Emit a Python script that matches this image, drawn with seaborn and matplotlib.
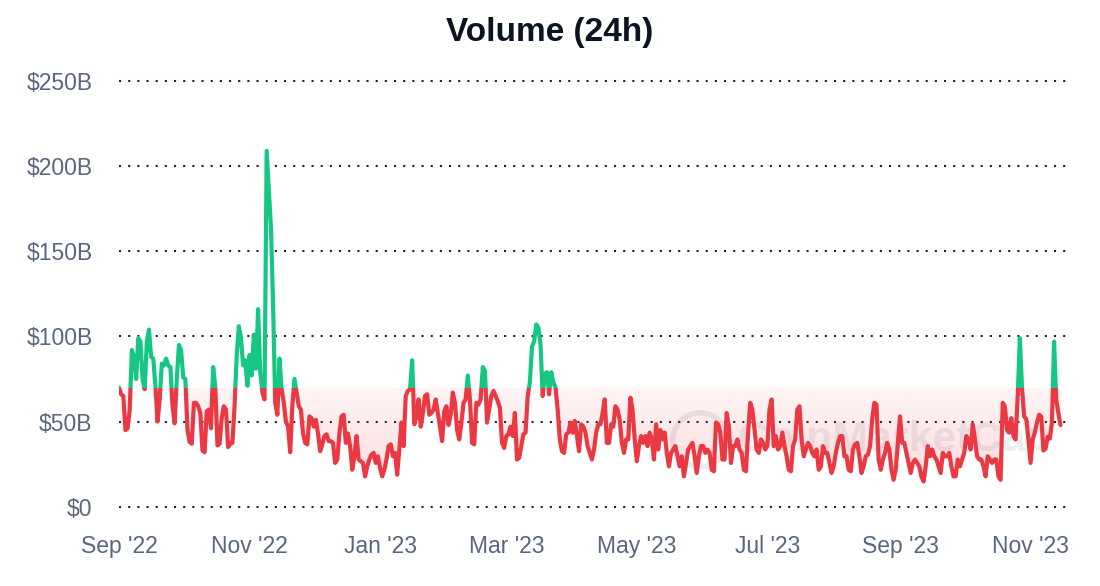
import numpy as np
import pandas as pd
import matplotlib
matplotlib.use("Agg")
import matplotlib.pyplot as plt
import matplotlib.dates as mdates
from matplotlib.colors import to_rgb
from matplotlib.patches import Rectangle, Ellipse
import seaborn as sns

# daily 24h volume in $B
start_date = "2022-09-01"

# Sep 1 - Oct 23, 2022
vol_part1 = [70, 66, 65, 45, 46, 57, 92, 88, 75, 99, 97, 75, 69, 97, 104, 88, 87, 71, 50, 63,
             84, 83, 87, 83, 82, 59, 49, 75, 95, 92, 76, 75, 45, 38, 37, 61, 61, 59, 55, 33,
             32, 56, 57, 46, 82, 70, 36, 37, 52, 59, 57, 35, 37]
# Oct 24 - Dec 14, 2022
vol_part2 = [37.5, 59, 89, 106, 99, 83, 86, 71, 89, 77, 101, 81, 116, 79, 67, 63, 209, 186, 164, 119,
             61, 54, 87, 69, 61, 50, 47, 32, 59, 75, 67, 59, 57, 43, 37.5, 36.6, 53, 52, 47, 51,
             43, 32.6, 36.6, 41.5, 42.5, 38.5, 38.5, 37.5, 25.7, 27.7, 43, 53]
# Dec 15, 2022 - Feb 7, 2023
vol_part3 = [54, 37.5, 43, 35.6, 21.7, 29.6, 41.5, 27.7, 26.7, 25.7, 17.8, 23.7, 27.7, 30.6, 31.6,
             25.7, 29.6, 22.7, 17.8, 21.7, 27.7, 35.6, 36.6, 29.6, 31.6, 18.8, 33.6, 49.4, 35.6, 65,
             68, 69, 86, 48.4, 53, 63, 47, 55, 65, 66, 54, 55, 57, 63, 55, 47, 38.5, 56, 59, 48,
             54, 67, 61, 45, 39.5]
# Feb 8 - Apr 2, 2023
vol_part4 = [49, 61, 63, 77, 63, 37.5, 36.6, 61, 60, 63, 82, 80, 49.4, 57, 65, 68, 65, 62, 58, 37.5,
             34.5, 41.5, 42.5, 47, 41.5, 55, 27.7, 28.7, 35.6, 42.5, 43.5, 65, 73, 94, 97, 107, 105,
             95, 65, 78, 79, 66, 79, 73, 70, 57, 39.5, 32.6, 31.6, 42.5, 43.5, 49.4, 43.5, 50.4]
# Apr 3 - May 26, 2023
vol_part5 = [41.5, 32.6, 48.4, 47, 43.5, 35.6, 31.6, 27.7, 33.6, 43.5, 48.4, 48.4, 55, 63, 37.5,
             37.5, 48.4, 47, 59, 57, 51, 37.5, 31.6, 39.5, 39.5, 64, 57, 39.5, 26.7, 35.6, 41.5,
             37.5, 41.5, 35.6, 43.5, 39.5, 27.7, 48.4, 33.6, 45, 39.5, 43.5, 31.6, 23.7, 31.6,
             33.6, 35.6, 29.6, 23.7, 29.6, 17.8, 25.7, 33.6, 35.6]
# May 27 - Jul 19, 2023
vol_part6 = [37.5, 29.6, 19.8, 29.6, 35.6, 35.6, 31.6, 33.6, 31.6, 21.7, 20.8, 49.4, 48.4, 43.5,
             27.7, 27.7, 55, 47, 25.7, 35.6, 35.6, 39.5, 33.6, 31.6, 21.7, 20.8, 43.5, 61, 57, 45,
             33.6, 31.6, 39.5, 37.5, 33.6, 35.6, 57, 63, 35.6, 41.5, 33.6, 35.6, 43.5, 35.6, 29.6,
             21.7, 20.8, 35.6, 39.5, 57, 59, 39.5, 29.6, 33.6]
# Jul 20 - Sep 12, 2023
vol_part7 = [37.5, 35.6, 31.6, 29.6, 33.6, 21.7, 23.7, 35.6, 31.6, 31.6, 25.7, 19.8, 23.7, 31.6,
             37.5, 41.5, 41.5, 29.6, 29.6, 21.7, 20.8, 33.6, 36.6, 37.5, 29.6, 19.8, 23.7, 29.6,
             30.6, 35.6, 51.4, 61, 60, 27.7, 21.7, 27.7, 31.6, 37.5, 33.6, 21.7, 15.8, 21.7, 37.5,
             53, 37.5, 37.5, 31.6, 25.7, 19.8, 25.7, 27.7, 25.7, 23.7, 17.8, 14.8]
# Sep 13 - Nov 6, 2023
vol_part8 = [23.7, 35.6, 29.6, 33.6, 29.6, 27.7, 23.7, 19.8, 31.6, 29.6, 29.6, 31.6, 23.7, 17.8,
             17.8, 27.7, 23.7, 27.7, 31.6, 41.5, 39.5, 33.6, 48.4, 39.5, 29.6, 27.7, 27.7, 23.7,
             17.8, 29.6, 27.7, 25.7, 27.7, 27.7, 17.8, 15.8, 61, 59, 45, 43.5, 52, 41.5, 39.5, 65,
             99, 70, 53, 51.4, 39.5, 25.7, 39.5, 43.5, 49.4, 54, 53]
# Nov 7 - Nov 15, 2023
vol_part9 = [33, 34, 41, 40, 49, 97, 63, 55, 48]

ytick_values = [0, 50, 100, 150, 200, 250]
ytick_labels = ["$0", "$50B", "$100B", "$150B", "$200B", "$250B"]

green = "#16c784"
red = "#ea3943"
gray = "#58667e"

sns.set_style("white")
plt.rcParams["font.family"] = ["Liberation Sans", "DejaVu Sans"]

volume = np.array(vol_part1 + vol_part2 + vol_part3 + vol_part4 + vol_part5
                  + vol_part6 + vol_part7 + vol_part8 + vol_part9, dtype=float)
dates = pd.date_range(start_date, periods=len(volume), freq="D")
df = pd.DataFrame({"date": dates, "volume": volume})
baseline = volume[0]

fig = plt.figure(figsize=(11, 5.86), dpi=100)
ax = fig.add_axes([0.1082, 0.1266, 0.8627, 0.7439])

x0 = dates[0]
x1 = dates[0] + pd.Timedelta(days=443.5)
xn0, xn1 = mdates.date2num(x0), mdates.date2num(x1)

# faint watermark
ax.add_patch(Ellipse((0.612, 0.165), 0.057, 0.124, transform=ax.transAxes,
                     fill=False, edgecolor="#e9ebee", linewidth=4, zorder=0.5))
ax.text(0.652, 0.165, "CoinMarketCap", transform=ax.transAxes, fontsize=31,
        fontweight="bold", color="#eceef1", va="center", ha="left", zorder=0.5)

# gradient fill under the baseline
fill = ax.fill_between(df["date"], np.minimum(volume, baseline), baseline,
                       color="none", linewidth=0)
grad = np.zeros((256, 1, 4))
grad[:, 0, :3] = to_rgb(red)
grad[:, 0, 3] = np.linspace(0.22, 0.05, 256)
im = ax.imshow(grad, extent=[xn0, xn1, 0, baseline], origin="lower",
               aspect="auto", zorder=1)
im.set_clip_path(fill.get_paths()[0], transform=ax.transData)

# line, green above baseline and red below
sns.lineplot(data=df, x="date", y="volume", color=green, linewidth=3.0, ax=ax, zorder=3)
sns.lineplot(data=df, x="date", y="volume", color=red, linewidth=3.0, ax=ax, zorder=3)
green_line, red_line = ax.lines[-2], ax.lines[-1]
green_line.set_clip_path(Rectangle((xn0, baseline), xn1 - xn0, 400, transform=ax.transData))
red_line.set_clip_path(Rectangle((xn0, -50), xn1 - xn0, baseline + 50, transform=ax.transData))
for ln in (green_line, red_line):
    ln.set_solid_joinstyle("round")
    ln.set_solid_capstyle("round")

ax.set_xlim(x0, x1)
ax.set_ylim(-3, 253)
ax.set_xlabel("")
ax.set_ylabel("")

ax.xaxis.set_major_locator(mdates.MonthLocator(bymonth=[1, 3, 5, 7, 9, 11]))
ax.xaxis.set_major_formatter(mdates.DateFormatter("%b '%y"))
ax.set_yticks(ytick_values, ytick_labels)
ax.tick_params(axis="x", length=0, pad=17, labelsize=16.5, colors=gray)
ax.tick_params(axis="y", length=0, pad=19, labelsize=16.5, colors=gray)

ax.yaxis.grid(True, color="#1e2329", linestyle=(0, (1, 3.4)), linewidth=1.5)
ax.xaxis.grid(False)
ax.set_axisbelow(True)
sns.despine(ax=ax, left=True, bottom=True)

fig.text(0.5, 0.944, "Volume (24h)", ha="center", va="center", fontsize=24,
         fontweight="bold", color="#0d1421")

fig.savefig("out.png", dpi=100)
